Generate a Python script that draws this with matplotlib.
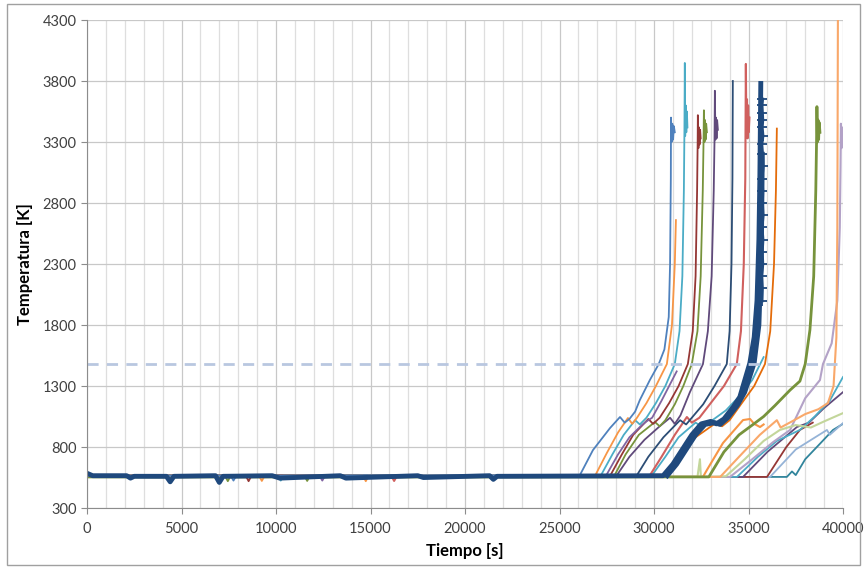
import matplotlib.pyplot as plt
from matplotlib.patches import Rectangle

plt.rcParams['font.family'] = ['Lato', 'DejaVu Sans']

# time [s] / temperature [K], one pair of lists per run
blue_t = [0, 7600, 7750, 7900, 26080, 26770, 27670, 28200, 28450, 28700, 29000, 29250, 29780, 30250, 30550, 30780, 30850, 30890, 30900, 30930, 30970, 31010, 31050, 31100]
blue_T = [565, 565, 525, 565, 570, 775, 955, 1046, 1000, 1030, 1090, 1185, 1349, 1480, 1600, 1866, 2300, 3000, 3500, 3300, 3450, 3320, 3430, 3380]

orange_t = [0, 9100, 9250, 9400, 14600, 14750, 14900, 26900, 27500, 28100, 28620, 28850, 29100, 29600, 30100, 30680, 30950, 31100, 31160]
orange_T = [565, 565, 522, 565, 565, 520, 565, 570, 750, 920, 1038, 990, 1040, 1160, 1300, 1480, 1800, 2300, 2660]

teal_t = [0, 10100, 10250, 10400, 27200, 27800, 28400, 29000, 29250, 29600, 30100, 30600, 31100, 31350, 31500, 31580, 31610, 31630, 31650, 31680, 31710, 31740, 31770]
teal_T = [565, 565, 525, 565, 570, 740, 900, 1020, 985, 1040, 1160, 1300, 1480, 1750, 2200, 2900, 3400, 3948, 3350, 3600, 3380, 3550, 3420]

purple_t = [0, 12300, 12450, 12600, 27480, 28100, 28700, 29360, 29600, 29900, 30400, 30900, 31200]
purple_T = [565, 565, 525, 565, 570, 740, 880, 980, 1010, 1040, 1180, 1330, 1420]

darkred_t = [0, 8400, 8550, 8700, 27700, 28300, 28900, 29700, 29950, 30300, 30800, 31300, 31790, 32050, 32200, 32280, 32310, 32320, 32350, 32380, 32410, 32440, 32470]
darkred_T = [565, 565, 520, 565, 570, 740, 900, 1030, 990, 1040, 1160, 1300, 1480, 1750, 2200, 2900, 3300, 3520, 3250, 3420, 3280, 3400, 3330]

green_t = [0, 7300, 7450, 7600, 11500, 11650, 11800, 27920, 28500, 29200, 30050, 30300, 30600, 31100, 31550, 32000, 32300, 32470, 32580, 32620, 32640, 32670, 32700, 32730, 32760, 32800]
green_T = [565, 565, 520, 565, 565, 522, 565, 570, 740, 900, 1005, 970, 1020, 1150, 1300, 1480, 1750, 2200, 2900, 3300, 3560, 3300, 3480, 3320, 3450, 3380]

dpurple_t = [0, 28040, 28700, 29500, 30300, 30850, 31100, 31400, 31900, 32590, 32850, 33050, 33160, 33200, 33220, 33250, 33280, 33310, 33340, 33380]
dpurple_T = [565, 570, 720, 860, 970, 1040, 990, 1060, 1250, 1480, 1750, 2200, 2900, 3300, 3720, 3320, 3500, 3330, 3480, 3400]

dblue_t = [0, 29100, 29700, 30500, 31380, 31700, 32000, 32600, 33200, 33850, 34000, 34100, 34150, 34170]
dblue_T = [565, 570, 720, 880, 1020, 985, 1040, 1150, 1300, 1480, 1750, 2300, 3000, 3800]

red_t = [0, 16100, 16250, 16400, 29790, 30400, 31100, 31740, 32000, 32400, 33000, 33700, 34380, 34600, 34750, 34830, 34860, 34890, 34920, 34950, 34980, 35010, 35050]
red_T = [565, 565, 522, 565, 570, 720, 900, 1046, 1000, 1040, 1160, 1300, 1480, 1750, 2300, 3000, 3940, 3350, 3650, 3330, 3600, 3380, 3500]

teal2_t = [0, 29900, 30600, 31300, 32200, 32500, 33000, 33800, 34600, 35200, 35800]
teal2_T = [565, 570, 720, 880, 1000, 970, 1010, 1100, 1230, 1350, 1537]

dorange_t = [0, 30600, 31300, 32200, 33300, 33600, 34000, 34600, 35300, 35870, 36150, 36350, 36450, 36500]
dorange_T = [565, 570, 720, 880, 1000, 970, 1020, 1150, 1300, 1480, 1750, 2300, 2900, 3410]

thick_t = [0, 300, 2100, 2300, 2500, 4200, 4400, 4600, 6800, 7000, 7200, 9800, 10200, 13400, 13700, 17500, 17800, 21300, 21500, 21700, 30480, 31000, 31500, 32000, 32500, 33000, 33300, 33700, 34200, 34540, 35070, 35300, 35450, 35550, 35600, 35650]
thick_T = [585, 565, 565, 545, 560, 560, 515, 560, 565, 510, 560, 565, 545, 565, 545, 565, 550, 565, 535, 560, 565, 660, 780, 900, 990, 1010, 990, 1030, 1130, 1210, 1488, 1700, 2000, 2500, 3000, 3780]

thick2_t = [30700, 31200, 31700, 32200, 32700, 33200, 33500, 33900, 34400, 34800, 35300, 35550, 35680, 35730]
thick2_T = [565, 660, 780, 900, 985, 1000, 985, 1040, 1140, 1250, 1490, 1800, 2400, 3200]

marks_t = [35700, 35720, 35690, 35740, 35710, 35750, 35700, 35760, 35720, 35740, 35700, 35760, 35730, 35690, 35750, 35710, 35740, 35720, 35700, 35730]
marks_T = [2000, 2100, 2200, 2300, 2400, 2500, 2600, 2700, 2800, 2900, 3000, 3100, 3200, 3280, 3350, 3420, 3480, 3540, 3600, 3650]

orange3_t = [0, 32590, 32800, 33650, 34710, 35080, 35300, 35610, 35800]
orange3_T = [555, 555, 612, 833, 1021, 1030, 990, 964, 985]

lorange_t = [0, 33500, 34500, 35600, 36500, 36700, 37300, 38000, 38700, 39200, 39500, 39650, 39700, 39730]
lorange_T = [555, 555, 720, 900, 1020, 960, 1010, 1070, 1110, 1160, 1300, 1700, 2600, 4300]

green3_t = [0, 32900, 33700, 34500, 35200, 35800, 36400, 37200, 37720, 38000, 38250, 38450, 38560, 38600, 38620, 38650, 38680, 38710, 38740, 38780]
green3_T = [555, 555, 760, 900, 980, 1050, 1140, 1267, 1340, 1480, 1760, 2200, 2900, 3300, 3590, 3300, 3480, 3320, 3460, 3380]

lgreen_t = [0, 32300, 32430, 32480, 33800, 34800, 35800, 36660, 37500, 38300, 39000, 40000]
lgreen_T = [555, 555, 700, 555, 560, 700, 850, 940, 980, 960, 1010, 1078]

lav_t = [0, 34020, 35200, 36300, 37200, 38000, 38780, 38940, 39400, 39700, 39830, 39870, 39890, 39920, 39950, 39980, 40000]
lav_T = [555, 555, 700, 840, 940, 1200, 1349, 1480, 1650, 2000, 2600, 3100, 3450, 3250, 3420, 3280, 3400]

teal3_t = [0, 34390, 35500, 36500, 37720, 38500, 39300, 40000]
teal3_T = [555, 555, 720, 850, 940, 1050, 1180, 1374]

purple3_t = [0, 34710, 36000, 37560, 38200, 39000, 40000]
purple3_T = [555, 555, 760, 964, 1000, 1120, 1250]

dred3_t = [0, 35980, 37000, 37720, 38400]
dred3_T = [555, 555, 800, 940, 1000]

peri_t = [0, 36140, 37500, 39150, 39300, 40000]
peri_T = [555, 555, 780, 940, 900, 996]

dteal_t = [0, 37030, 37300, 37500, 38000, 38800, 39470, 40000]
dteal_T = [555, 555, 600, 570, 700, 830, 940, 990]

threshold = 1480

plt.figure(figsize=(8.64, 5.67), dpi=100)
ax = plt.axes([0.1007, 0.104, 0.875, 0.8607])

ax.set_xticks(range(0, 40001, 1000), minor=True)
ax.set_xticks(range(0, 40001, 5000))
ax.set_yticks(range(300, 4301, 500))
ax.grid(True, which='minor', axis='x', color='#dedede', lw=0.9)
ax.grid(True, which='major', axis='both', color='#c8c8c8', lw=0.9)
ax.set_axisbelow(True)

# later runs drawn on top, like the spreadsheet does
runs = [
    (dteal_t, dteal_T, '#31859C', 1.3),
    (peri_t, peri_T, '#95B3D7', 1.3),
    (dred3_t, dred3_T, '#953735', 1.3),
    (purple3_t, purple3_T, '#604A7B', 1.3),
    (teal3_t, teal3_T, '#4BACC6', 1.3),
    (lav_t, lav_T, '#B3A2C7', 1.5),
    (lgreen_t, lgreen_T, '#C3D69B', 1.5),
    (lorange_t, lorange_T, '#F9A86A', 1.5),
    (orange3_t, orange3_T, '#F79646', 1.5),
    (green3_t, green3_T, '#77933C', 2.0),
    (dorange_t, dorange_T, '#E46C0A', 1.3),
    (teal2_t, teal2_T, '#4BACC6', 1.3),
    (red_t, red_T, '#D0605E', 1.5),
    (dblue_t, dblue_T, '#2C4D75', 1.3),
    (dpurple_t, dpurple_T, '#604A7B', 1.3),
    (green_t, green_T, '#77933C', 1.3),
    (darkred_t, darkred_T, '#953735', 1.3),
    (purple_t, purple_T, '#8064A2', 1.3),
    (teal_t, teal_T, '#4BACC6', 1.3),
    (orange_t, orange_T, '#F79646', 1.3),
    (blue_t, blue_T, '#4F81BD', 1.3),
    (thick2_t, thick2_T, '#1F497D', 3.5),
    (thick_t, thick_T, '#1F497D', 3.5),
]
for t, T, c, w in runs:
    ax.plot(t, T, color=c, lw=w, solid_joinstyle='round')
ax.plot(marks_t, marks_T, color='#1F497D', lw=2.5, marker='+', ms=7, mew=1.3)

ax.axhline(threshold, color='#B9C7E0', lw=2, ls=(0, (4, 3)))

ax.set_xlim(0, 40000)
ax.set_ylim(300, 4300)
for s in ['top', 'right']:
    ax.spines[s].set_visible(False)
for s in ['left', 'bottom']:
    ax.spines[s].set_color('#8c8c8c')
ax.tick_params(which='major', colors='#8c8c8c', labelcolor='#404040', labelsize=10.5, length=4)
ax.tick_params(which='minor', length=0)
ax.tick_params(axis='x', pad=6)

ax.set_xlabel('Tiempo [s]', fontsize=12, fontweight='bold', labelpad=5)
ax.set_ylabel('Temperatura [K]', fontsize=12, fontweight='bold', labelpad=7)

fig = plt.gcf()
fig.patches.append(Rectangle((7 / 864, 2 / 567), 853 / 864, 561 / 567, transform=fig.transFigure,
                             fill=False, edgecolor='#a0a0a0', lw=1))

plt.savefig('out.png', dpi=100)
